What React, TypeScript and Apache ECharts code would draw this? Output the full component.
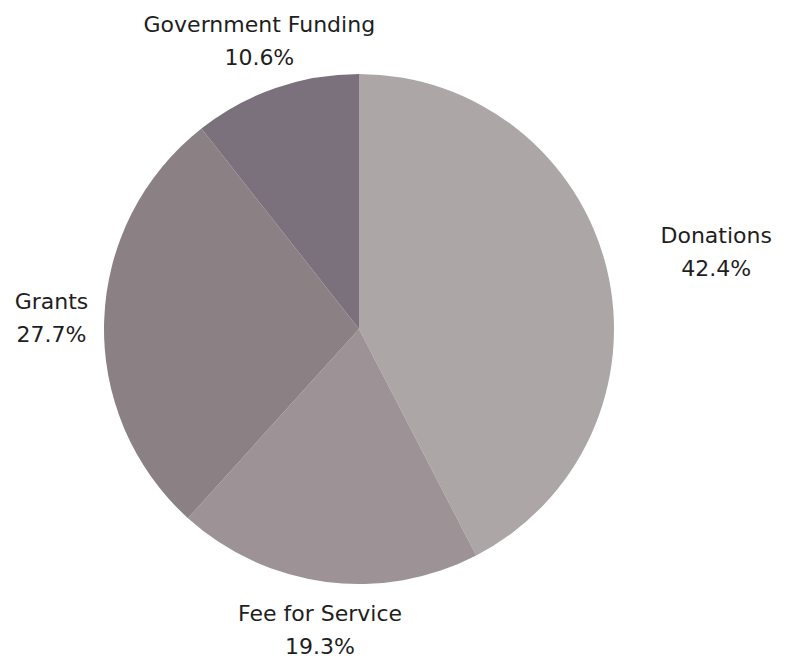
import React, { useEffect, useRef } from "react";
import * as echarts from "echarts";

const categories = ["Donations", "Fee for Service", "Grants", "Government Funding"];
const shares = [42.4, 19.3, 27.7, 10.6];
const colors = ["#aca6a6", "#9d9295", "#8b8083", "#7b717d"];

const CX = 359;
const CY = 329;
const R = 255;
const GAP = 15;

export default function App() {
  const ref = useRef<HTMLDivElement>(null);
  useEffect(() => {
    if (!ref.current) return;
    const chart = echarts.init(ref.current, undefined, { renderer: "svg" });
    const total = shares.reduce((a, b) => a + b, 0);
    const mids: number[] = [];
    let acc = 0;
    for (const v of shares) {
      mids.push(((90 - ((acc + v / 2) / total) * 360) * Math.PI) / 180);
      acc += v;
    }
    chart.setOption({
      animation: false,
      backgroundColor: "#ffffff",
      series: [
        {
          type: "pie",
          center: [CX, CY],
          radius: R,
          startAngle: 90,
          clockwise: true,
          data: categories.map((name, i) => ({
            name,
            value: shares[i],
            itemStyle: { color: colors[i] },
          })),
          label: {
            show: true,
            position: "outside",
            formatter: "{b}\n{c}%",
            fontFamily: "DejaVu Sans",
            fontSize: 22,
            lineHeight: 33,
            color: "#1e1e1e",
            align: "center",
            overflow: "none",
          },
          labelLine: { show: false },
          emphasis: { disabled: true },
          labelLayout: (p: any) => {
            const m = mids[p.dataIndex];
            const dx = Math.cos(m);
            const dy = -Math.sin(m);
            const w = p.labelRect.width;
            const h = p.labelRect.height;
            const ex = Math.abs(dx) > 1e-6 ? w / 2 / Math.abs(dx) : Infinity;
            const ey = Math.abs(dy) > 1e-6 ? h / 2 / Math.abs(dy) : Infinity;
            const d = R + GAP + Math.min(ex, ey);
            const side = ex < ey ? Math.sign(dx) * dy * dy * 700 : 0;
            return {
              x: CX + dx * d + side,
              y: CY + dy * d,
              align: "center",
              verticalAlign: "middle",
              moveOverlap: false,
            };
          },
        },
      ],
    });
    return () => chart.dispose();
  }, []);
  return (
    <div
      ref={ref}
      style={{ position: "fixed", left: 0, top: 0, width: 798, height: 660 }}
    />
  );
}
